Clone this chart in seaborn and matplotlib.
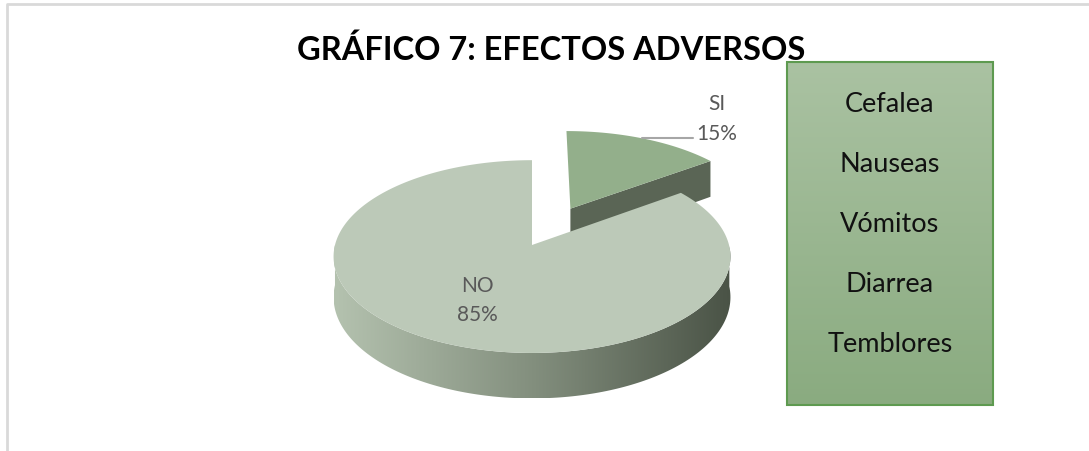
import numpy as np
import matplotlib.pyplot as plt
import seaborn as sns
from matplotlib.patches import Polygon, Rectangle

sns.set_theme(style='white')
plt.rcParams['font.family'] = ['Lato', 'DejaVu Sans']

# Data
categories = ['SI', 'NO']
percentages = [15, 85]
explode = [0.45, 0.0]
effects = ['Cefalea', 'Nauseas', 'Vómitos', 'Diarrea', 'Temblores']
title = 'GRÁFICO 7: EFECTOS ADVERSOS'

W, H = 1089, 452
fig = plt.figure(figsize=(W / 100, H / 100), dpi=100)
ax = fig.add_axes([0, 0, 1, 1])
ax.set_xlim(0, W)
ax.set_ylim(H, 0)
ax.axis('off')

# 3D pie geometry (pixels)
cx, cy, rx, ry, depth, persp = 532, 246, 197, 95, 40, 0.12


def proj(X, Y, dz=0.0):
    s = 1.0 / (1.0 + persp * Y)
    return cx + rx * X * s, cy - ry * Y * s + depth * s * dz


top_colors = {'SI': '#93af8b', 'NO': '#bcc9b8'}
face_colors = {'SI': '#5a6555', 'NO': '#6f7b6a'}
side_cmap = sns.blend_palette(['#b4c2af', '#838f7e', '#4a5346'], as_cmap=True)
text_grey = '#595959'

# angles: first slice starts at 12 o'clock, going clockwise
ends = 90 - np.cumsum(percentages) * 3.6
starts = ends + np.array(percentages) * 3.6
slices = []
for cat, a1, a2, e in zip(categories, ends, starts, explode):
    mid = np.radians((a1 + a2) / 2)
    slices.append(dict(cat=cat, a1=a1, a2=a2, ox=e * np.cos(mid), oy=e * np.sin(mid), mid=mid))

# back slices first
slices.sort(key=lambda s: -(s['oy'] + np.sin(s['mid'])))

for s in slices:
    t = np.radians(np.linspace(s['a1'], s['a2'], 300))
    X = s['ox'] + np.cos(t)
    Y = s['oy'] + np.sin(t)

    # radial faces facing the viewer
    for ang, sign in [(s['a1'], -1), (s['a2'], 1)]:
        normal = np.radians(ang + sign * 90)
        if np.sin(normal) < -1e-6:
            ex, ey = s['ox'] + np.cos(np.radians(ang)), s['oy'] + np.sin(np.radians(ang))
            pts = [proj(s['ox'], s['oy']), proj(ex, ey), proj(ex, ey, 1), proj(s['ox'], s['oy'], 1)]
            ax.add_patch(Polygon(pts, closed=True, facecolor=face_colors[s['cat']], edgecolor='none'))

    # outer side (front half)
    front = np.sin(t) < 0
    if front.any():
        tx, ty = proj(X[front], Y[front])
        bx, by = proj(X[front], Y[front], 1)
        pts = np.column_stack([np.r_[tx, bx[::-1]], np.r_[ty, by[::-1]]])
        side = Polygon(pts, closed=True, facecolor='none', edgecolor='none')
        ax.add_patch(side)
        grad = np.linspace(0, 1, 256).reshape(1, -1)
        im = ax.imshow(grad, cmap=side_cmap, aspect='auto',
                       extent=(pts[:, 0].min(), pts[:, 0].max(), pts[:, 1].max(), pts[:, 1].min()))
        im.set_clip_path(side)

    # top surface
    tx, ty = proj(X, Y)
    c0 = proj(s['ox'], s['oy'])
    pts = np.column_stack([np.r_[c0[0], tx], np.r_[c0[1], ty]])
    ax.add_patch(Polygon(pts, closed=True, facecolor=top_colors[s['cat']], edgecolor='none'))

# data labels
lbl = {s['cat']: s for s in slices}
no = lbl['NO']
lx, ly = proj(0.55 * np.cos(no['mid']), 0.55 * np.sin(no['mid']))
ax.text(lx - 2, ly - 3, 'NO', ha='center', va='baseline', fontsize=15, color=text_grey)
ax.text(lx - 2, ly + 26, f'{percentages[1]}%', ha='center', va='baseline', fontsize=15, color=text_grey)

ax.plot([642, 693], [139, 139], color='#a6a6a6', lw=1.5)
ax.text(717, 110, 'SI', ha='center', va='baseline', fontsize=15, color=text_grey)
ax.text(717, 140, f'{percentages[0]}%', ha='center', va='baseline', fontsize=15, color=text_grey)

# green box with effects list
bx0, bx1, by0, by1 = 787, 993, 63, 406
box = Rectangle((bx0, by0), bx1 - bx0, by1 - by0, facecolor='none', edgecolor='#5e9a50', lw=1.5, zorder=3)
ax.add_patch(box)
box_cmap = sns.blend_palette(['#aac2a2', '#8aab80'], as_cmap=True)
gim = ax.imshow(np.linspace(0, 1, 256).reshape(-1, 1), cmap=box_cmap, aspect='auto',
                extent=(bx0, bx1, by1, by0), origin='upper')
gim.set_clip_path(box)
for i, name in enumerate(effects):
    ax.text((bx0 + bx1) / 2, 112 + i * 60, name, ha='center', va='baseline', fontsize=19.5,
            color='#111111', zorder=4)

# title
ax.text(551, 60, title, ha='center', va='baseline', fontsize=23.5, fontweight='bold',
        color='black', zorder=5)

# chart frame
ax.plot([7, 7, W], [H, 5, 5], color='#d9d9d9', lw=2)

ax.set_xlim(0, W)
ax.set_ylim(H, 0)
fig.savefig('out.png', dpi=100)
